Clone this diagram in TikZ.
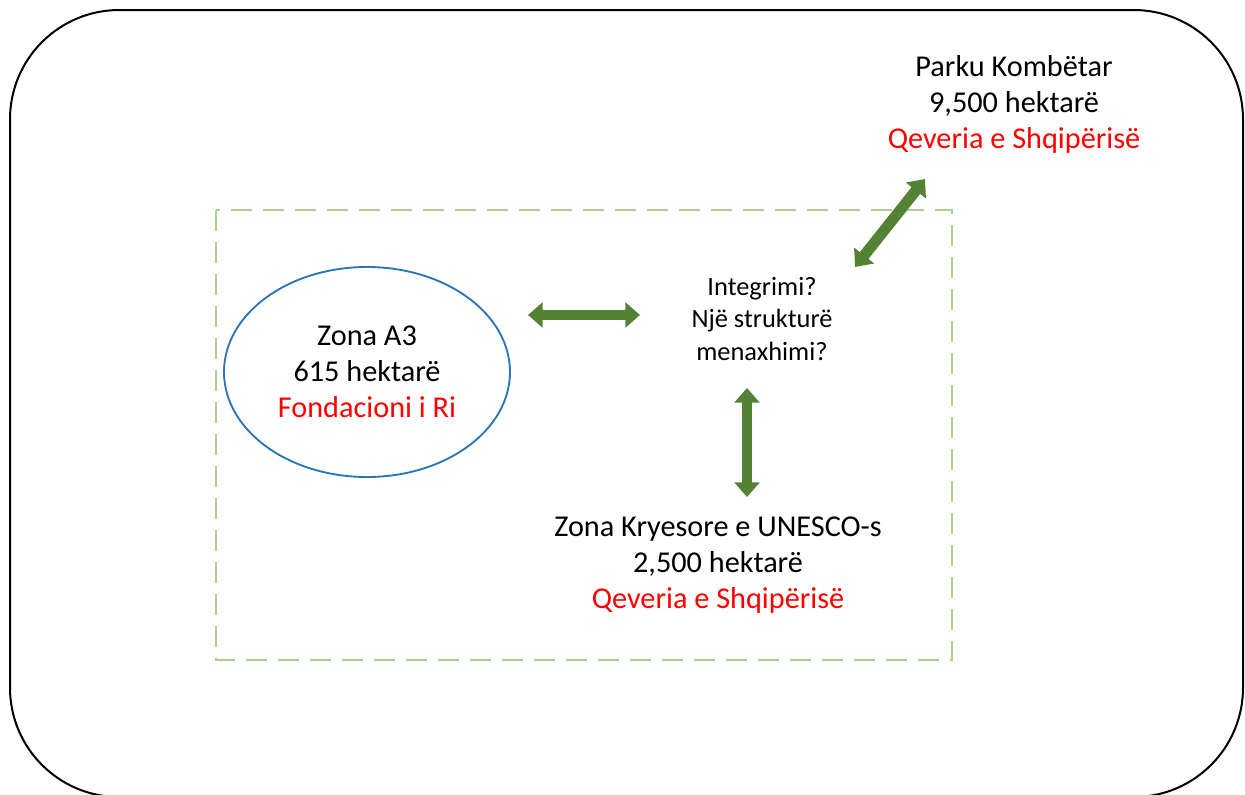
\documentclass[tikz,border=0pt]{standalone}
\usepackage{fontspec}
\setmainfont{Carlito}
\usetikzlibrary{arrows.meta,shapes.geometric}
\definecolor{arrowgreen}{HTML}{548235}
\definecolor{boxgreen}{HTML}{A9D18E}
\definecolor{zoneblue}{HTML}{2E75B6}
\definecolor{ownred}{HTML}{FF0000}
\begin{document}
\begin{tikzpicture}[x=0.75pt,y=-0.75pt]
\tikzstyle{bigtext} = [
  align=center,
  inner sep=0pt,
  font=\fontsize{22.7}{27}\selectfont
]
\tikzstyle{smalltext} = [
  align=center,
  inner sep=0pt,
  font=\fontsize{19.8}{24.5}\selectfont
]
\tikzstyle{linkarrow} = [
  draw = arrowgreen,
  line width=8.2pt,
  {Triangle[length=11pt,width=18.5pt]}-{Triangle[length=11pt,width=18.5pt]}
]

\useasboundingbox (0,0) rectangle (1245,794);

% frame and project area
\draw [line width=1.5pt, rounded corners=82pt] (10,10) rectangle (1243,797);
\draw [boxgreen, line width=2pt, dash pattern=on 16pt off 8pt] (216,210) rectangle (952,660);

\node [bigtext, shape=ellipse, draw=zoneblue, line width=1.4pt,
  minimum width=214.5pt, minimum height=157.5pt] (zoneA) at (367,372)
  {Zona A3\\615 hektarë\\\textcolor{ownred}{Fondacioni i Ri}};
\node [smalltext] (integ) at (762,319) {Integrimi?\\Një strukturë\\menaxhimi?};
\node [bigtext] (core) at (718,565) {Zona Kryesore e UNESCO-s\\2,500 hektarë\\\textcolor{ownred}{Qeveria e Shqipërisë}};
\node [bigtext] (park) at (1014,104) {Parku Kombëtar\\9,500 hektarë\\\textcolor{ownred}{Qeveria e Shqipërisë}};

\coordinate (h1) at (528,315);
\coordinate (h2) at (640,315);
\coordinate (v1) at (747,388);
\coordinate (v2) at (747,497);
\coordinate (d1) at (855,267);
\coordinate (d2) at (925,179);

\draw[linkarrow] (h1) -- (h2);
\draw[linkarrow] (v1) -- (v2);
\draw[linkarrow] (d1) -- (d2);

\end{tikzpicture}
\end{document}
